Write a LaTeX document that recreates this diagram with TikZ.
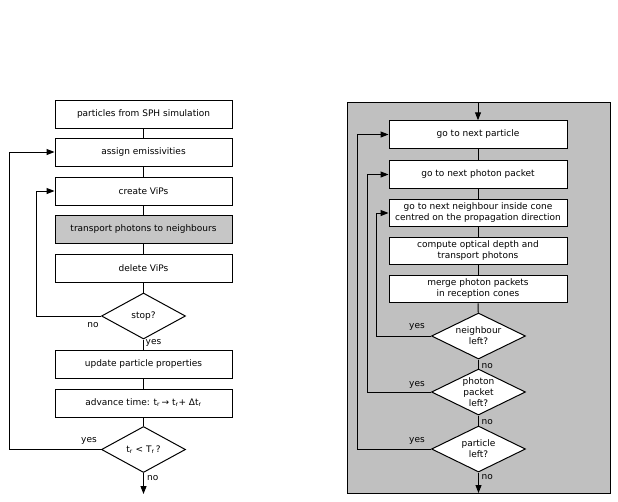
\documentclass[tikz,border=0pt]{standalone}
\usepackage{fontspec}
\setmainfont{DejaVu Sans}
\usetikzlibrary{arrows.meta,shapes.geometric}
\definecolor{panelgray}{RGB}{192,192,192}
\definecolor{boxgray}{RGB}{198,198,198}
\begin{document}
\begin{tikzpicture}[x=1pt,y=-1pt,
  every node/.style={font=\fontsize{9}{11}\selectfont, inner sep=0pt},
  stepbox/.style={draw, line width=1pt, fill=white, minimum width=177pt, minimum height=28pt, align=center},
  rstepbox/.style={draw, line width=1pt, fill=white, minimum width=178pt, minimum height=27.5pt, align=center},
  decision/.style={draw, line width=1pt, fill=white, diamond, aspect=1.83, minimum width=84pt, minimum height=46pt, align=center, inner sep=0pt},
  rdecision/.style={draw, line width=1pt, fill=white, diamond, aspect=2.04, minimum width=94pt, minimum height=46pt, align=center, inner sep=0pt},
  link/.style={line width=1pt},
  arrowlink/.style={line width=1pt, -{Triangle[length=8pt,width=6pt]}},
  lbl/.style={font=\fontsize{9}{10}\selectfont}
]
\useasboundingbox (0,0) rectangle (618,501);
% ---------- left flow ----------
\node[stepbox] (b1) at (143.5,114) {particles from SPH simulation};
\node[stepbox] (b2) at (143.5,152) {assign emissivities};
\node[stepbox] (b3) at (143.5,191) {create ViPs};
\node[stepbox, fill=boxgray] (b4) at (143.5,229.5) {transport photons to neighbours};
\node[stepbox] (b5) at (143.5,268) {delete ViPs};
\node[decision] (d1) at (143.5,316) {stop?};
\node[stepbox] (b6) at (143.5,364.5) {update particle properties};
\node[stepbox] (b7) at (143.5,403) {advance time: t\textsubscript{r}\,→ t\textsubscript{r}+ Δt\textsubscript{r}};
\node[decision] (d2) at (143.5,449.5) {t\textsubscript{r} < T\textsubscript{r}\,?};
\coordinate (endL) at (143.5,494);
\coordinate (lo1) at (9,449.5);
\coordinate (lo2) at (9,152);
\coordinate (li1) at (36,316);
\coordinate (li2) at (36,191);

\draw[link] (b1) -- (b2);
\draw[link] (b2) -- (b3);
\draw[link] (b3) -- (b4);
\draw[link] (b4) -- (b5);
\draw[link] (b5) -- (d1);
\draw[link] (d1) -- (b6);
\draw[link] (b6) -- (b7);
\draw[link] (b7) -- (d2);
\draw[arrowlink] (d2) -- (endL);
\draw[arrowlink] (d2.west) -- (lo1) -- (lo2) -- (b2.west);
\draw[arrowlink] (d1.west) -- (li1) -- (li2) -- (b3.west);
\node[lbl, anchor=center] (t1) at (93,325) {no};
\node[lbl, anchor=west] (t2) at (145.5,343) {yes};
\node[lbl, anchor=center] (t3) at (89,441) {yes};
\node[lbl, anchor=west] (t4) at (147,478) {no};
% ---------- right panel ----------
\node[draw, line width=1pt, fill=panelgray, minimum width=263pt, minimum height=391pt, anchor=north west] (panel) at (347,102) {};
\node[rstepbox] (r1) at (478,134.5) {go to next particle};
\node[rstepbox] (r2) at (478,174.5) {go to next photon packet};
\node[rstepbox] (r3) at (478,213) {go to next neighbour inside cone\\centred on the propagation direction};
\node[rstepbox] (r4) at (478,251) {compute optical depth and\\transport photons};
\node[rstepbox] (r5) at (478,289) {merge photon packets\\in reception cones};
\node[rdecision] (e1) at (478.5,336) {neighbour\\left?};
\node[rdecision] (e2) at (478.5,392) {photon\\packet\\left?};
\node[rdecision] (e3) at (478.5,449) {particle\\left?};
\coordinate (rtop) at (478,102);
\coordinate (endR) at (478.5,493);
\coordinate (n1) at (376,336);
\coordinate (n2) at (376,213);
\coordinate (p1) at (367,392);
\coordinate (p2) at (367,174.5);
\coordinate (q1) at (357,449);
\coordinate (q2) at (357,134.5);

\draw[arrowlink] (rtop) -- (r1);
\draw[link] (r1) -- (r2);
\draw[link] (r2) -- (r3);
\draw[link] (r3) -- (r4);
\draw[link] (r4) -- (r5);
\draw[link] (r5) -- (e1);
\draw[link] (e1) -- (e2);
\draw[link] (e2) -- (e3);
\draw[arrowlink] (e3) -- (endR);
\draw[arrowlink] (e1.west) -- (n1) -- (n2) -- (r3.west);
\draw[arrowlink] (e2.west) -- (p1) -- (p2) -- (r2.west);
\draw[arrowlink] (e3.west) -- (q1) -- (q2) -- (r1.west);
\node[lbl] (y1) at (417,327) {yes};
\node[lbl] (y2) at (417,385) {yes};
\node[lbl] (y3) at (417,441) {yes};
\node[lbl, anchor=west] (m1) at (481.5,366) {no};
\node[lbl, anchor=west] (m2) at (481.5,422) {no};
\node[lbl, anchor=west] (m3) at (481.5,477) {no};
\end{tikzpicture}
\end{document}
